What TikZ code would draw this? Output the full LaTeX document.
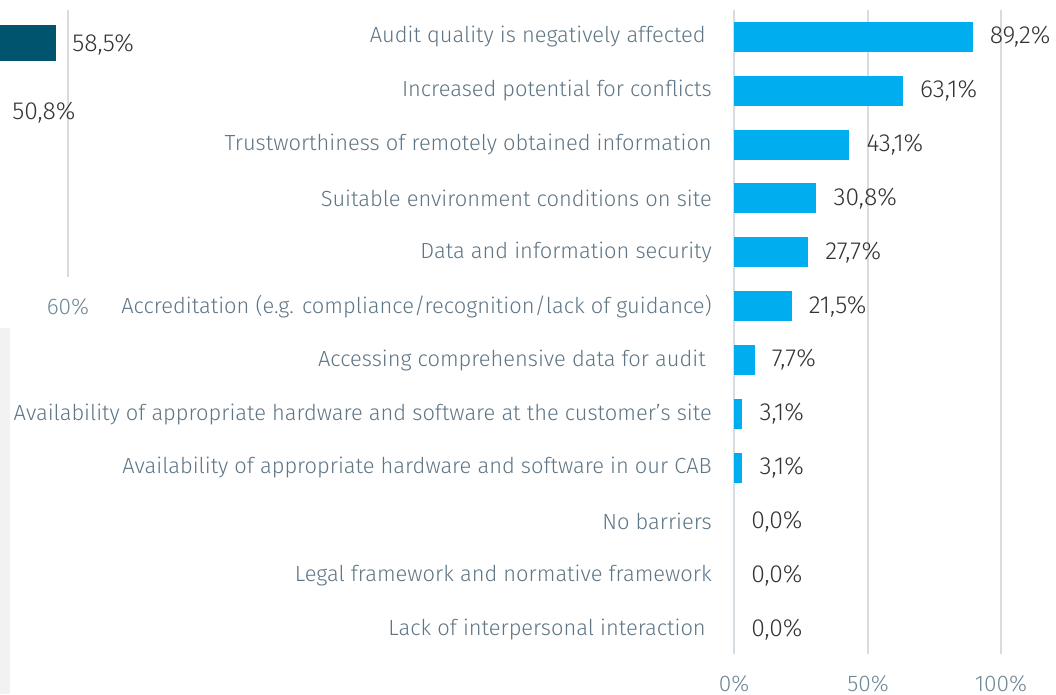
\documentclass[tikz,border=0pt]{standalone}
\usepackage{fontspec}
\setmainfont{Fira Sans Light}
\usepackage{tikz}
\usetikzlibrary{positioning}
\definecolor{barcyan}{HTML}{00AEEF}
\definecolor{barteal}{HTML}{00546E}
\definecolor{gridgray}{HTML}{D5DDE3}
\definecolor{catgray}{HTML}{5E7585}
\definecolor{valgray}{HTML}{333333}
\definecolor{axisgray}{HTML}{6E8796}
\definecolor{panelgray}{HTML}{F2F2F2}
\tikzset{%
  grid line/.style={
    draw=gridgray,
    line width=1.5pt
  },
  bar/.style={
    fill=barcyan
  },
  cat label/.style={
    anchor=east,
    inner sep=0pt,
    text=catgray,
    font=\fontsize{16.4}{19}\selectfont
  },
  val label/.style={
    anchor=west,
    inner sep=0pt,
    text=valgray,
    font=\fontsize{18.5}{21}\selectfont
  },
  axis label/.style={
    inner sep=0pt,
    text=axisgray,
    font=\fontsize{17}{20}\selectfont
  },
}

\begin{document}
\begin{tikzpicture}[x=0.75pt, y=-0.75pt]

\useasboundingbox (0,0) rectangle (1056,694);

% cut-off neighbour chart on the left
\fill [panelgray] (0,328) rectangle (10,694);
\fill [barteal] (0,25) rectangle (56,61);
\draw [grid line] (68,10) -- (68,277);
\node [val label] (left-val-1) at (72,45) {58,5\%};
\node [val label] (left-val-2) at (12,113) {50,8\%};
\node [axis label] (left-axis) at (68,307) {60\%};

% grid
\foreach \p/\x in {0/734,50/868,100/1001} {
  \draw [grid line] (\x,10) -- (\x,654);
  \node [axis label, anchor=base] (axis-\p) at (\x,691) {\p\%};
}

% bars
\foreach \l/\v/\t/\s [count=\i] in {
  {Audit quality is negatively affected}/89.2/{89,2}/6,
  {Increased potential for conflicts}/63.1/{63,1}/0,
  {Trustworthiness of remotely obtained information}/43.1/{43,1}/0,
  {Suitable environment conditions on site}/30.8/{30,8}/0,
  {Data and information security}/27.7/{27,7}/0,
  {Accreditation (e.g. compliance/recognition/lack of guidance)}/21.5/{21,5}/0,
  {Accessing comprehensive data for audit}/7.7/{7,7}/6,
  {Availability of appropriate hardware and software at the customer's site}/3.1/{3,1}/0,
  {Availability of appropriate hardware and software in our CAB}/3.1/{3,1}/0,
  {No barriers}/0/{0,0}/0,
  {Legal framework and normative framework}/0/{0,0}/0,
  {Lack of interpersonal interaction}/0/{0,0}/6}
{
  \pgfmathsetmacro\yc{36.7+53.9*(\i-1)}
  \pgfmathsetmacro\w{\v*2.675}
  \ifdim \w pt>0pt
    \fill [bar] (734,\yc-15) rectangle ++(\w,30);
  \fi
  \node [cat label] (cat-\i) at (712-\s,\yc) {\l};
  \node [val label] (val-\i) at (734+\w+17,\yc) {\t\%};
}

\end{tikzpicture}
\end{document}
